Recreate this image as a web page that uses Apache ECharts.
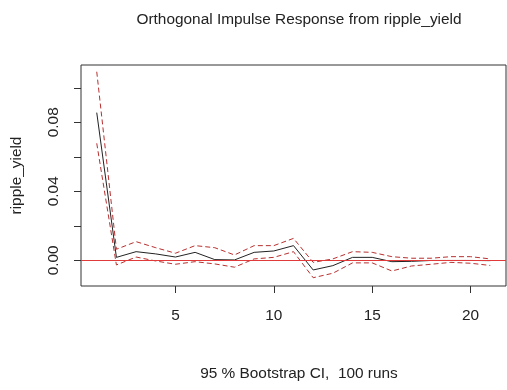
<!DOCTYPE html>
<html><head><meta charset="utf-8">
<script src="https://cdn.jsdelivr.net/npm/echarts@6/dist/echarts.min.js"></script>
<style>html,body{margin:0;padding:0;background:#fff}#c{width:507px;height:390px}</style>
</head><body><div id="c"></div>
<script>
var steps = [1,2,3,4,5,6,7,8,9,10,11,12,13,14,15,16,17,18,19,20,21];
var irf   = [0.0856,0.0017,0.0050,0.0037,0.0019,0.0046,0.0004,0.0002,0.0046,0.0054,0.0085,-0.0056,-0.0031,0.0017,0.0017,-0.0008,-0.0006,-0.0001,-0.0001,-0.0001,-0.0002];
var upper = [0.1093,0.0064,0.0108,0.0073,0.0041,0.0085,0.0073,0.0031,0.0085,0.0085,0.0127,-0.0012,0.0008,0.0050,0.0046,0.0021,0.0012,0.0012,0.0021,0.0021,0.0008];
var lower = [0.0678,-0.0027,0.0019,-0.0004,-0.0023,-0.0008,-0.0021,-0.0040,0.0008,0.0017,0.0050,-0.0101,-0.0075,-0.0015,-0.0015,-0.0062,-0.0033,-0.0023,-0.0012,-0.0017,-0.0030];
var xTicks = [5,10,15,20];
var yTicks = [0,0.02,0.04,0.06,0.08,0.10];
var yLabels = [0,0.04,0.08];

function pairs(v){ return steps.map(function(s,i){ return [s, v[i]]; }); }
var font = 'Liberation Sans, Arial, sans-serif';
var chart = echarts.init(document.getElementById('c'), null, {renderer:'canvas'});
chart.setOption({
  animation:false,
  backgroundColor:'#fff',
  title:[
    {text:'Orthogonal Impulse Response from ripple_yield', left:294, top:7, textAlign:'center',
     textStyle:{fontFamily:font, fontSize:15.4, fontWeight:'normal', color:'#222'}},
    {text:'95 % Bootstrap CI,  100 runs', left:294, top:361, textAlign:'center',
     textStyle:{fontFamily:font, fontSize:15.4, fontWeight:'normal', color:'#222'}}
  ],
  grid:{left:81, right:1, top:65, bottom:104, outerBoundsMode:'none', containLabel:false,
    show:true, borderColor:'#333', borderWidth:1, backgroundColor:'transparent'},
  xAxis:{type:'value', min:0.2, max:21.8,
    axisLine:{show:false, onZero:false},
    splitLine:{show:false},
    axisTick:{show:true, length:7, customValues:xTicks, lineStyle:{color:'#333'}},
    axisLabel:{customValues:xTicks, margin:22, fontFamily:font, fontSize:15.4, color:'#222'}
  },
  yAxis:{type:'value', min:-0.0149, max:0.1132,
    name:'ripple_yield', nameLocation:'middle', nameRotate:90, nameGap:57,
    nameTextStyle:{fontFamily:font, fontSize:15.4, color:'#222'},
    axisLine:{show:false, onZero:false},
    splitLine:{show:false},
    axisTick:{show:true, length:7, customValues:yTicks, lineStyle:{color:'#333'}},
    axisLabel:{customValues:yLabels, rotate:90, margin:20, fontFamily:font, fontSize:15.4, color:'#222',
      formatter:function(v){ return v.toFixed(2); }}
  },
  series:[
    {type:'line', data:pairs(irf), symbol:'none', lineStyle:{color:'#222', width:1},
     markLine:{silent:true, symbol:'none', label:{show:false}, lineStyle:{color:'#e03a3a', width:1, type:'solid'}, data:[{yAxis:0}]}},
    {type:'line', data:pairs(upper), symbol:'none', lineStyle:{color:'#b83030', width:1, type:[5,3]}},
    {type:'line', data:pairs(lower), symbol:'none', lineStyle:{color:'#b83030', width:1, type:[5,3]}}
  ]
});
</script></body></html>
